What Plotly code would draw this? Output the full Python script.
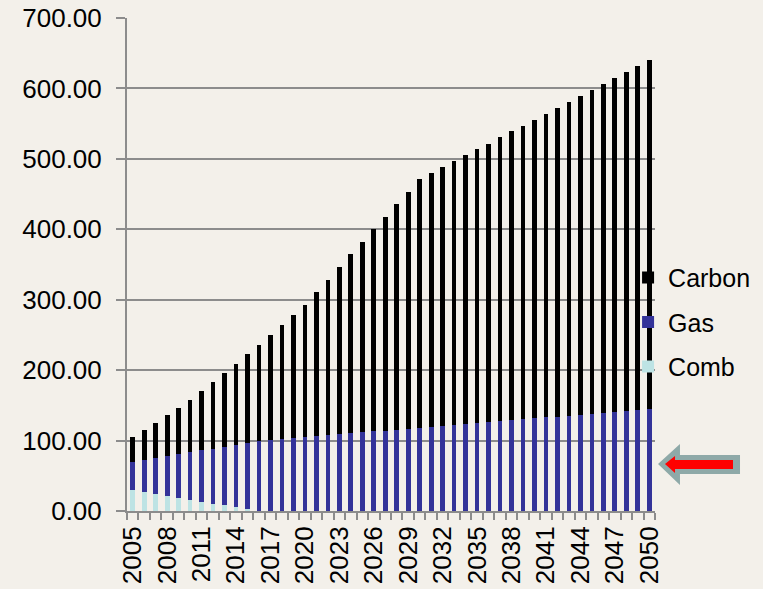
import plotly.graph_objects as go

years = list(range(2005, 2051))

comb = [29.4, 27.0, 24.2, 21.3, 18.5, 15.6, 13.2, 10.4, 8.1, 5.3, 2.8] + [0.0] * 35

gas = [40.3, 45.5, 50.7, 56.5, 62.1, 67.9, 73.1, 78.2, 83.3, 88.7,
       93.9, 99.1, 101.0, 102.4, 103.8, 104.8, 106.2, 107.6, 109.1, 110.5,
       111.9, 113.0, 114.0, 115.3, 116.6, 118.0, 119.4, 120.9, 122.3, 123.7,
       124.7, 126.1, 127.5, 128.9, 130.4, 131.8, 133.2, 134.1, 135.5, 137.0,
       138.4, 139.3, 140.8, 141.7, 143.2, 144.6]

carbon = [35.1, 42.7, 50.7, 58.7, 65.8, 73.9, 84.3, 94.8, 104.8, 115.0,
          126.1, 136.5, 148.8, 161.6, 174.5, 187.7, 204.8, 220.9, 237.4, 253.9,
          270.2, 287.0, 303.6, 320.8, 337.0, 353.6, 360.8, 367.2, 374.4, 381.5,
          388.6, 395.7, 402.9, 410.0, 416.6, 423.7, 430.8, 438.5, 445.1, 452.1,
          459.3, 466.5, 473.5, 481.1, 488.1, 495.2]

y_ticks = [0, 100, 200, 300, 400, 500, 600, 700]
x_ticks = years[::3]

BG = "#F3F0EA"
GRID = "#8C8C8C"
FONT = "Liberation Sans, Arial, sans-serif"

W, H = 763, 589
ML, MR, MT, MB = 127, 108, 18, 78
PW, PH = W - ML - MR, H - MT - MB

fig = go.Figure()
fig.add_trace(go.Bar(x=years, y=comb, name="Comb", marker=dict(color="#BDE3E4", line=dict(width=0)),
                     legendgroup="c", legendrank=3))
fig.add_trace(go.Bar(x=years, y=gas, name="Gas", marker=dict(color="#333399", line=dict(width=0)),
                     legendgroup="g", legendrank=2))
fig.add_trace(go.Bar(x=years, y=carbon, name="Carbon", marker=dict(color="#000000", line=dict(width=0)),
                     legendgroup="k", legendrank=1))


def px(x, y):
    return (x - ML) / PW, (H - MB - y) / PH


def path(points):
    parts = []
    for i, (x, y) in enumerate(points):
        a, b = px(x, y)
        parts.append(("M" if i == 0 else "L") + f"{a:.4f},{b:.4f}")
    return " ".join(parts) + " Z"


grey_arrow = [(658, 464), (680, 444), (680, 455), (740, 455), (740, 474), (680, 474), (680, 485)]
red_arrow = [(665, 464), (675, 456), (675, 460), (733, 460), (733, 469), (675, 469), (675, 473)]

fig.update_layout(
    width=W, height=H,
    margin=dict(l=ML, r=MR, t=MT, b=MB, pad=0, autoexpand=False),
    paper_bgcolor=BG, plot_bgcolor=BG,
    barmode="stack", bargap=0.59,
    font=dict(family=FONT, size=25, color="#000000"),
    showlegend=True,
    legend=dict(x=0.949, xanchor="left", y=0.52, yanchor="top",
                traceorder="grouped", tracegroupgap=9,
                bgcolor="rgba(0,0,0,0)", font=dict(size=25, family=FONT),
                itemwidth=30),
    xaxis=dict(range=[2004.5, 2050.5], tickmode="array", tickvals=x_ticks,
               ticktext=[str(v) for v in x_ticks], tickangle=-90,
               ticks="", showgrid=False, zeroline=False,
               showline=True, linecolor=GRID, linewidth=2,
               ticklabelstandoff=3,
               tickfont=dict(size=26, family=FONT),
               minor=dict(ticks="outside", tickmode="linear", tick0=2004.5, dtick=1,
                          ticklen=7, tickcolor=GRID, tickwidth=1.5, showgrid=False)),
    yaxis=dict(range=[0, 700], tickmode="array", tickvals=y_ticks,
               ticktext=[f"{v:.2f}" for v in y_ticks],
               ticks="outside", ticklen=9, tickcolor=GRID, tickwidth=1.5,
               showgrid=True, gridcolor=GRID, gridwidth=1.5,
               zeroline=False, showline=True, linecolor=GRID, linewidth=2,
               ticklabelstandoff=9,
               tickfont=dict(size=26, family=FONT)),
    shapes=[
        dict(type="path", xref="paper", yref="paper", path=path(grey_arrow),
             fillcolor="#8EA9A8", line=dict(width=0), layer="above"),
        dict(type="path", xref="paper", yref="paper", path=path(red_arrow),
             fillcolor="#FF0000", line=dict(width=0), layer="above"),
    ],
)

fig.write_html("out.html")
